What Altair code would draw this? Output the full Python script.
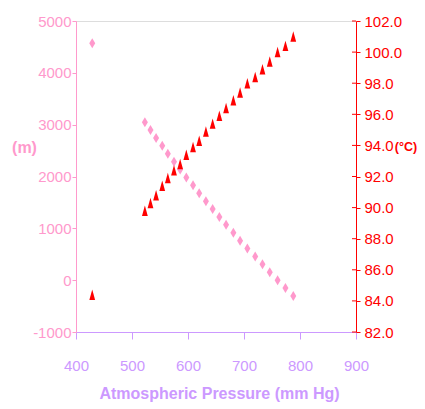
import altair as alt
import pandas as pd

pressure = [429, 523, 533, 543, 554, 564, 575, 586, 597, 609, 620, 632,
            644, 656, 668, 681, 693, 706, 720, 733, 746, 760, 774, 788]
altitude = [4572, 3048, 2896, 2743, 2591, 2438, 2286, 2134, 1981, 1829, 1676, 1524,
            1372, 1219, 1067, 914, 762, 610, 457, 305, 152, 0, -152, -305]
boiling = [84.4, 89.8, 90.3, 90.8, 91.4, 91.9, 92.4, 92.8, 93.4, 93.9, 94.3, 94.9,
           95.4, 95.9, 96.4, 96.9, 97.4, 98.0, 98.4, 98.9, 99.4, 100.0, 100.4, 101.0]

x_ticks = [400, 500, 600, 700, 800, 900]
left_ticks = [-1000, 0, 1000, 2000, 3000, 4000, 5000]
right_ticks = [82, 84, 86, 88, 90, 92, 94, 96, 98, 100, 102]

df = pd.DataFrame({"pressure": pressure, "altitude": altitude, "boiling": boiling})
tick_df = pd.DataFrame({"boiling": right_ticks})

W, H = 280, 311
FONT = "Liberation Sans, Arial"
PINK = "#ff99cc"
PURPLE = "#cc99ff"
RED = "#ff0000"

DIAMOND = "M0,-1L0.6,0L0,1L-0.6,0Z"
TRIANGLE = "M0,-1L0.55,1L-0.55,1Z"

x_enc = alt.X("pressure:Q",
              scale=alt.Scale(domain=[400, 900], nice=False, zero=False),
              axis=alt.Axis(values=x_ticks, title="Atmospheric Pressure (mm Hg)",
                            grid=False, domainColor=PURPLE, tickColor=PURPLE,
                            labelColor=PURPLE, titleColor=PURPLE,
                            labelFont=FONT, titleFont=FONT, labelFontSize=15,
                            titleFontSize=16, titleFontWeight="bold",
                            tickSize=7, labelPadding=19, labelFlush=False,
                            labelOverlap=False,
                            titleX=143, titleY=61, titleBaseline="middle",
                            titleAlign="center"))

diamonds = alt.Chart(df).mark_point(shape=DIAMOND, filled=True, size=100,
                                    color=PINK, opacity=1).encode(
    x=x_enc,
    y=alt.Y("altitude:Q",
            scale=alt.Scale(domain=[-1000, 5000], nice=False, zero=False),
            axis=alt.Axis(values=left_ticks, title="(m)", orient="left",
                          grid=False, domainColor=PINK, tickColor=PINK,
                          labelColor=PINK, titleColor=PINK,
                          labelFont=FONT, titleFont=FONT, labelFontSize=15,
                          titleFontSize=16, titleFontWeight="bold",
                          tickSize=4, labelPadding=1, labelFlush=False,
                          labelOverlap=False,
                          labelExpr="'' + datum.value",
                          titleAngle=0, titleX=-52, titleY=126,
                          titleAlign="center", titleBaseline="middle"))
)

right_axis = alt.Axis(values=right_ticks, title="(°C)", orient="right",
                      format=".1f",
                      grid=False, domainColor=RED, tickColor=RED,
                      labelColor=RED, titleColor=RED,
                      labelFont=FONT, titleFont=FONT, labelFontSize=15,
                      titleFontSize=12.5, titleFontWeight="bold",
                      tickSize=4, labelPadding=4, labelFlush=False,
                      labelOverlap=False,
                      titleAngle=0, titleX=49.5, titleY=125,
                      titleAlign="center", titleBaseline="middle")
right_scale = alt.Scale(domain=[82, 102], nice=False, zero=False)

triangles = alt.Chart(df).mark_point(shape=TRIANGLE, filled=True, size=110,
                                     color=RED, opacity=1).encode(
    x=alt.X("pressure:Q"),
    y=alt.Y("boiling:Q", scale=right_scale, axis=right_axis),
)

inner_ticks = alt.Chart(tick_df).mark_rule(color=RED, strokeWidth=1).encode(
    x=alt.value(W - 4), x2=alt.value(W),
    y=alt.Y("boiling:Q", scale=right_scale, axis=right_axis),
)

chart = alt.layer(diamonds, alt.layer(triangles, inner_ticks)).resolve_scale(
    y="independent"
).properties(
    width=W, height=H,
    autosize=alt.AutoSizeParams(type="none"),
    padding={"left": 68, "top": 13, "right": 61, "bottom": 70},
).configure_view(stroke=None).configure(background="white")

chart.save("out.html", embed_options={"renderer": "svg", "actions": False})
